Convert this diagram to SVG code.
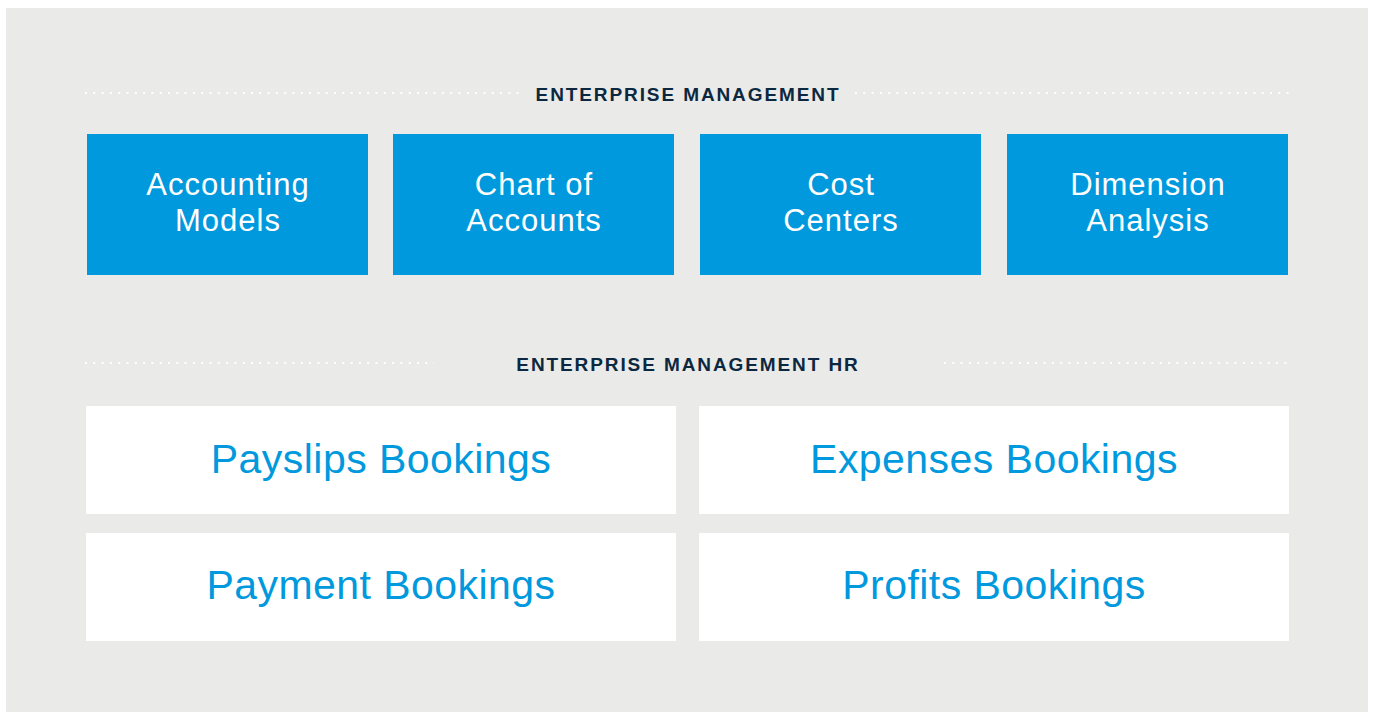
<svg xmlns="http://www.w3.org/2000/svg" width="1375" height="712" viewBox="0 0 1375 712">
<style>
.bg{fill:#EAEAE8}
.hdr{font-family:"Liberation Sans",Arial,sans-serif;font-weight:bold;font-size:19px;fill:#0C2840;letter-spacing:1.9px;text-anchor:middle}
.dots{stroke:#FFFFFF;stroke-width:2;stroke-dasharray:2 6.3;fill:none}
.blue{fill:#0099DD}
.btxt{font-family:"Liberation Sans",Arial,sans-serif;font-size:31px;fill:#FFFFFF;letter-spacing:1px;text-anchor:middle}
.white{fill:#FFFFFF}
.wtxt{font-family:"Liberation Sans",Arial,sans-serif;font-size:41px;fill:#0099DD;letter-spacing:0.45px;text-anchor:middle}
</style>
<rect class="bg" x="6" y="8" width="1362" height="704"/>
<g id="connectors">
<line class="dots" x1="85" y1="93" x2="520" y2="93"/>
<line class="dots" x1="855" y1="93" x2="1291" y2="93"/>
<line class="dots" x1="85" y1="363" x2="434" y2="363"/>
<line class="dots" x1="944" y1="363" x2="1291" y2="363"/>
</g>
<g id="title1"><text class="hdr" x="688" y="101">ENTERPRISE MANAGEMENT</text></g>
<g id="title2"><text class="hdr" x="688" y="371">ENTERPRISE MANAGEMENT HR</text></g>
<g id="accounting-models">
<rect class="blue" x="87" y="134" width="281" height="141"/>
<text class="btxt" x="228" y="195">Accounting</text>
<text class="btxt" x="228" y="231">Models</text>
</g>
<g id="chart-of-accounts">
<rect class="blue" x="393" y="134" width="281" height="141"/>
<text class="btxt" x="534" y="195">Chart of</text>
<text class="btxt" x="534" y="231">Accounts</text>
</g>
<g id="cost-centers">
<rect class="blue" x="700" y="134" width="281" height="141"/>
<text class="btxt" x="841" y="195">Cost</text>
<text class="btxt" x="841" y="231">Centers</text>
</g>
<g id="dimension-analysis">
<rect class="blue" x="1007" y="134" width="281" height="141"/>
<text class="btxt" x="1148" y="195">Dimension</text>
<text class="btxt" x="1148" y="231">Analysis</text>
</g>
<g id="payslips-bookings">
<rect class="white" x="86" y="406" width="590" height="108"/>
<text class="wtxt" x="381" y="473">Payslips Bookings</text>
</g>
<g id="expenses-bookings">
<rect class="white" x="699" y="406" width="590" height="108"/>
<text class="wtxt" x="994" y="473">Expenses Bookings</text>
</g>
<g id="payment-bookings">
<rect class="white" x="86" y="533" width="590" height="108"/>
<text class="wtxt" x="381" y="599">Payment Bookings</text>
</g>
<g id="profits-bookings">
<rect class="white" x="699" y="533" width="590" height="108"/>
<text class="wtxt" x="994" y="599">Profits Bookings</text>
</g>
</svg>
